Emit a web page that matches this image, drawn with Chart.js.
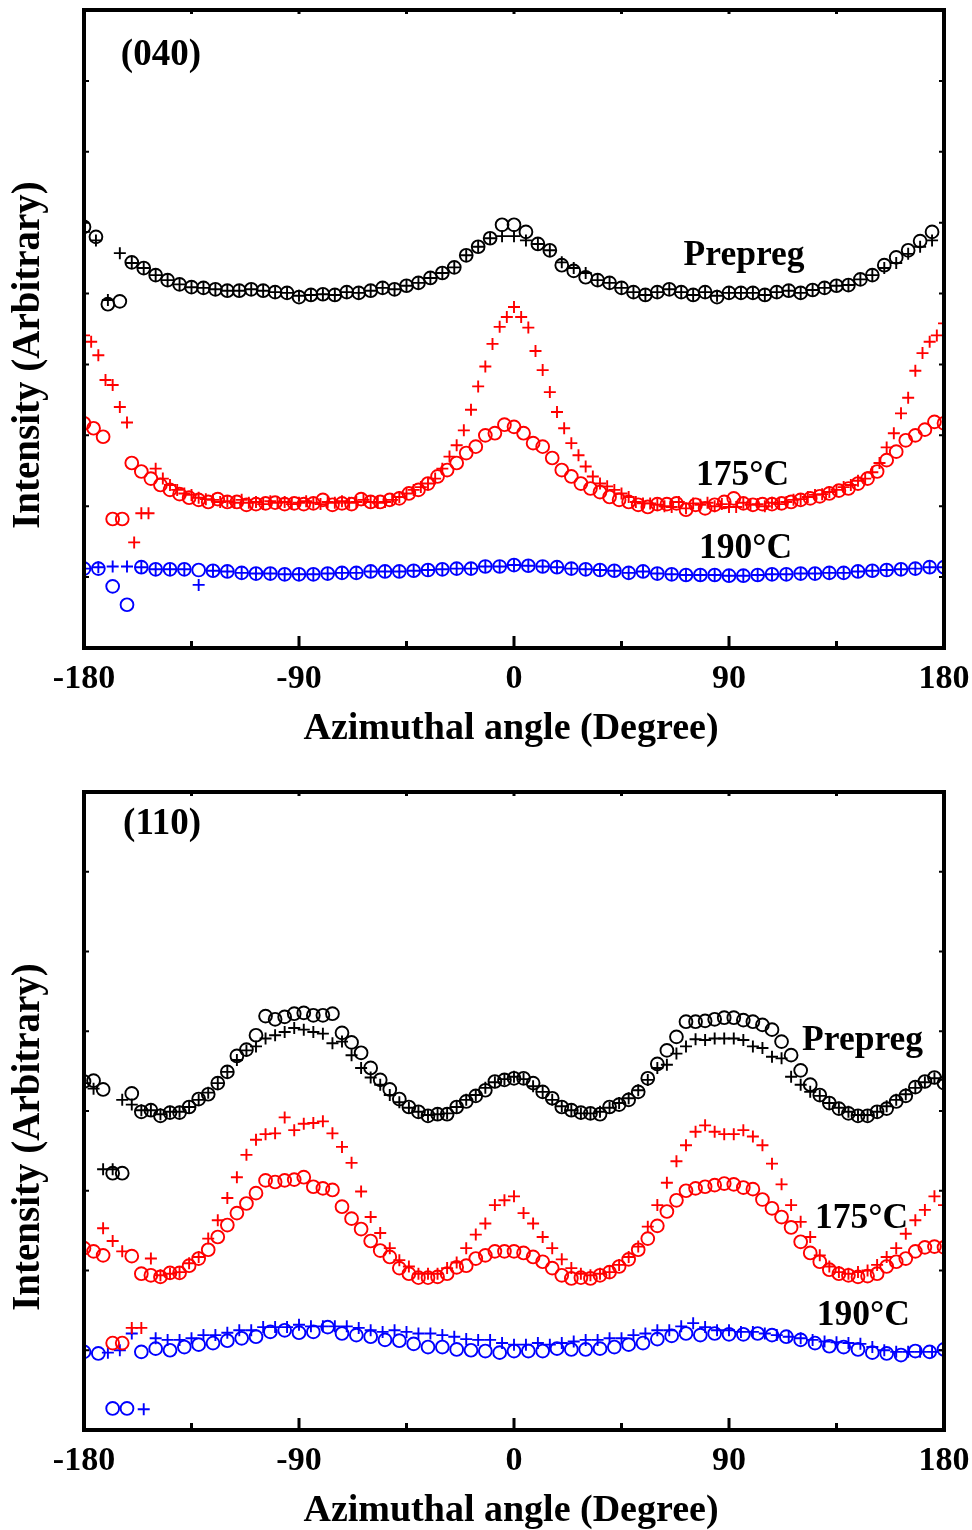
<!DOCTYPE html>
<html>
<head>
<meta charset="utf-8">
<title>Azimuthal intensity (040) and (110)</title>
<script src="https://cdn.jsdelivr.net/npm/chart.js@4.4.1/dist/chart.umd.min.js"></script>
<style>
  body { margin: 0; background: #ffffff; }
  canvas { display: block; }
</style>
</head>
<body>
<canvas id="chart040" width="972" height="765"></canvas>
<canvas id="chart110" width="972" height="765"></canvas>
<script>
// sampling grids (degrees)
const ANGLES_3 = [
  -180, -177, -174, -171, -168, -165, -162, -159, -156, -153,
  -150, -147, -144, -141, -138, -135, -132, -129, -126, -123,
  -120, -117, -114, -111, -108, -105, -102, -99, -96, -93,
  -90, -87, -84, -81, -78, -75, -72, -69, -66, -63,
  -60, -57, -54, -51, -48, -45, -42, -39, -36, -33,
  -30, -27, -24, -21, -18, -15, -12, -9, -6, -3,
  0, 3, 6, 9, 12, 15, 18, 21, 24, 27,
  30, 33, 36, 39, 42, 45, 48, 51, 54, 57,
  60, 63, 66, 69, 72, 75, 78, 81, 84, 87,
  90, 93, 96, 99, 102, 105, 108, 111, 114, 117,
  120, 123, 126, 129, 132, 135, 138, 141, 144, 147,
  150, 153, 156, 159, 162, 165, 168, 171, 174, 177, 180
];
const ANGLES_4 = [
  -180, -176, -172, -168, -164, -160, -156, -152, -148, -144,
  -140, -136, -132, -128, -124, -120, -116, -112, -108, -104,
  -100, -96, -92, -88, -84, -80, -76, -72, -68, -64,
  -60, -56, -52, -48, -44, -40, -36, -32, -28, -24,
  -20, -16, -12, -8, -4, 0, 4, 8, 12, 16,
  20, 24, 28, 32, 36, 40, 44, 48, 52, 56,
  60, 64, 68, 72, 76, 80, 84, 88, 92, 96,
  100, 104, 108, 112, 116, 120, 124, 128, 132, 136,
  140, 144, 148, 152, 156, 160, 164, 168, 172, 176,
  180
];
const ANGLES_5 = [
  -180, -175, -170, -165, -160, -155, -150, -145, -140, -135,
  -130, -125, -120, -115, -110, -105, -100, -95, -90, -85,
  -80, -75, -70, -65, -60, -55, -50, -45, -40, -35,
  -30, -25, -20, -15, -10, -5, 0, 5, 10, 15,
  20, 25, 30, 35, 40, 45, 50, 55, 60, 65,
  70, 75, 80, 85, 90, 95, 100, 105, 110, 115,
  120, 125, 130, 135, 140, 145, 150, 155, 160, 165,
  170, 175, 180
];
const ANGLES_6 = [
  -180, -174, -168, -162, -156, -150, -144, -138, -132, -126,
  -120, -114, -108, -102, -96, -90, -84, -78, -72, -66,
  -60, -54, -48, -42, -36, -30, -24, -18, -12, -6,
  0, 6, 12, 18, 24, 30, 36, 42, 48, 54,
  60, 66, 72, 78, 84, 90, 96, 102, 108, 114,
  120, 126, 132, 138, 144, 150, 156, 162, 168, 174,
  180
];

const X_MAJOR_TICKS = [-180, -90, 0, 90, 180];
const X_MINOR_TICKS = [-135, -45, 45, 135];
const X_TICK_LABELS = ['-180', '-90', '0', '90', '180'];
const X_TITLE = 'Azimuthal angle (Degree)';
const Y_TITLE = 'Intensity (Arbitrary)';

// ---- (040) reflection ----
const p040PrepregO = [ // ANGLES_5
  5.94, 5.80, 4.85, 4.89, 5.44, 5.36, 5.26, 5.19, 5.13, 5.09,
  5.08, 5.06, 5.04, 5.04, 5.06, 5.04, 5.02, 5.01, 4.95, 4.98,
  4.99, 4.98, 5.02, 5.01, 5.04, 5.08, 5.06, 5.11, 5.15, 5.22,
  5.29, 5.37, 5.54, 5.66, 5.78, 5.97, 5.97, 5.87, 5.70, 5.61,
  5.40, 5.32, 5.23, 5.19, 5.15, 5.08, 5.02, 4.98, 5.02, 5.06,
  5.02, 4.98, 5.02, 4.95, 5.01, 5.01, 5.01, 4.98, 5.02, 5.04,
  5.01, 5.05, 5.08, 5.11, 5.12, 5.20, 5.26, 5.40, 5.51, 5.61,
  5.74, 5.87, null
];
const p040PrepregX = [ // ANGLES_5
  5.87, 5.75, 4.91, 5.57, 5.43, 5.36, 5.26, 5.19, 5.13, 5.09,
  5.08, 5.06, 5.04, 5.04, 5.06, 5.04, 5.02, 5.01, 4.97, 4.98,
  4.99, 4.98, 5.02, 5.01, 5.04, 5.08, 5.06, 5.11, 5.15, 5.22,
  5.29, 5.37, 5.54, 5.66, 5.78, 5.81, 5.81, 5.75, 5.70, 5.61,
  5.44, 5.36, 5.29, 5.19, 5.15, 5.08, 5.02, 4.98, 5.02, 5.06,
  5.02, 4.98, 5.02, 4.97, 5.01, 5.01, 5.01, 4.98, 5.02, 5.04,
  5.01, 5.05, 5.08, 5.11, 5.12, 5.20, 5.26, 5.36, 5.43, 5.56,
  5.66, 5.75, null
];
const p040T175O = [ // ANGLES_4
  3.17, 3.10, 2.98, 1.82, 1.82, 2.61, 2.49, 2.39, 2.30, 2.23,
  2.17, 2.12, 2.09, 2.06, 2.10, 2.06, 2.06, 2.02, 2.03, 2.04,
  2.05, 2.03, 2.04, 2.03, 2.04, 2.09, 2.02, 2.04, 2.03, 2.10,
  2.06, 2.06, 2.09, 2.11, 2.18, 2.23, 2.32, 2.42, 2.51, 2.61,
  2.75, 2.84, 3.00, 3.03, 3.15, 3.12, 3.03, 2.89, 2.84, 2.68,
  2.51, 2.42, 2.32, 2.25, 2.20, 2.13, 2.09, 2.06, 2.02, 1.99,
  2.03, 2.03, 2.04, 1.95, 2.02, 1.97, 2.02, 2.06, 2.11, 2.04,
  2.02, 2.03, 2.03, 2.04, 2.06, 2.09, 2.11, 2.14, 2.18, 2.22,
  2.25, 2.32, 2.39, 2.49, 2.65, 2.77, 2.93, 3.00, 3.08, 3.19,
  3.17
];
const p040T175X = [ // ANGLES_3
  4.41, 4.32, 4.13, 3.78, 3.71, 3.40, 3.18, 1.49, 1.90, 1.90,
  2.53, 2.39, 2.30, 2.23, 2.18, 2.16, 2.12, 2.10, 2.09, 2.06,
  2.07, 2.05, 2.09, 2.05, 2.06, 2.03, 2.07, 2.05, 2.06, 2.03,
  2.05, 2.07, 2.05, 2.03, 2.06, 2.05, 2.07, 2.05, 2.06, 2.09,
  2.06, 2.05, 2.06, 2.09, 2.13, 2.18, 2.23, 2.27, 2.32, 2.39,
  2.53, 2.70, 2.86, 3.07, 3.36, 3.69, 3.97, 4.29, 4.53, 4.67,
  4.81, 4.67, 4.52, 4.19, 3.92, 3.61, 3.33, 3.10, 2.89, 2.72,
  2.56, 2.42, 2.32, 2.28, 2.23, 2.18, 2.13, 2.06, 2.04, 2.04,
  2.02, 2.00, 1.99, 2.06, 1.97, 2.04, 2.02, 2.05, 2.00, 2.03,
  1.99, 1.99, 2.05, 2.02, 2.03, 2.00, 2.05, 2.03, 2.06, 2.09,
  2.10, 2.13, 2.16, 2.17, 2.20, 2.23, 2.27, 2.30, 2.36, 2.39,
  2.48, 2.61, 2.83, 3.03, 3.31, 3.53, 3.91, 4.16, 4.32, 4.41, 4.58
];
const p040T190O = [ // ANGLES_6
  1.12, 1.12, 0.87, 0.61, 1.14, 1.11, 1.11, 1.11, 1.10, 1.09,
  1.08, 1.06, 1.05, 1.05, 1.04, 1.04, 1.04, 1.05, 1.06, 1.06,
  1.08, 1.08, 1.08, 1.09, 1.10, 1.11, 1.12, 1.12, 1.15, 1.15,
  1.17, 1.16, 1.15, 1.14, 1.12, 1.11, 1.10, 1.09, 1.06, 1.08,
  1.05, 1.04, 1.03, 1.03, 1.03, 1.02, 1.02, 1.03, 1.04, 1.04,
  1.05, 1.05, 1.06, 1.06, 1.08, 1.09, 1.10, 1.11, 1.12, 1.14,
  1.14
];
const p040T190X = [ // ANGLES_6
  1.12, 1.14, 1.15, 1.15, 1.14, 1.11, 1.11, 1.11, 0.89, 1.09,
  1.08, 1.06, 1.05, 1.05, 1.04, 1.04, 1.04, 1.05, 1.06, 1.06,
  1.08, 1.08, 1.08, 1.09, 1.10, 1.11, 1.12, 1.12, 1.15, 1.15,
  1.17, 1.16, 1.15, 1.14, 1.12, 1.11, 1.10, 1.09, 1.06, 1.08,
  1.05, 1.04, 1.03, 1.03, 1.03, 1.02, 1.02, 1.03, 1.04, 1.04,
  1.05, 1.05, 1.06, 1.06, 1.08, 1.09, 1.10, 1.11, 1.12, 1.14,
  1.14
];

// ---- (110) reflection ----
const p110PrepregO = [ // ANGLES_4
  4.37, 4.38, 4.27, 3.22, 3.22, 4.22, 3.99, 4.01, 3.94, 3.98,
  3.98, 4.05, 4.15, 4.21, 4.35, 4.49, 4.69, 4.77, 4.95, 5.19,
  5.15, 5.18, 5.22, 5.23, 5.20, 5.20, 5.22, 4.98, 4.86, 4.73,
  4.54, 4.39, 4.27, 4.15, 4.05, 3.99, 3.94, 3.96, 3.96, 4.05,
  4.12, 4.19, 4.26, 4.37, 4.39, 4.41, 4.41, 4.35, 4.24, 4.16,
  4.05, 4.01, 3.98, 3.97, 3.96, 4.05, 4.08, 4.14, 4.24, 4.41,
  4.59, 4.76, 4.93, 5.12, 5.12, 5.13, 5.15, 5.17, 5.17, 5.14,
  5.12, 5.08, 5.02, 4.87, 4.70, 4.51, 4.33, 4.20, 4.10, 4.03,
  3.97, 3.94, 3.94, 3.99, 4.03, 4.12, 4.19, 4.30, 4.37, 4.42,
  4.35
];
const p110PrepregX = [ // ANGLES_4
  4.35, 4.28, 3.27, 3.27, 4.14, 4.08, 4.01, 4.01, 3.96, 3.99,
  3.99, 4.05, 4.14, 4.23, 4.35, 4.49, 4.64, 4.76, 4.81, 4.91,
  4.95, 4.99, 5.04, 5.02, 4.99, 4.97, 4.85, 4.87, 4.70, 4.54,
  4.42, 4.33, 4.20, 4.11, 4.04, 3.99, 3.95, 3.96, 3.97, 4.05,
  4.14, 4.20, 4.29, 4.36, 4.40, 4.43, 4.40, 4.31, 4.24, 4.14,
  4.06, 4.01, 3.97, 3.97, 3.99, 4.04, 4.10, 4.16, 4.26, 4.39,
  4.54, 4.58, 4.72, 4.81, 4.90, 4.89, 4.91, 4.91, 4.91, 4.89,
  4.81, 4.79, 4.68, 4.66, 4.43, 4.33, 4.24, 4.19, 4.10, 4.04,
  3.99, 3.95, 3.95, 3.99, 4.06, 4.14, 4.21, 4.29, 4.36, 4.41,
  4.39
];
const p110T175O = [ // ANGLES_4
  2.28, 2.24, 2.19, 1.09, 1.09, 2.18, 1.96, 1.94, 1.92, 1.97,
  1.97, 2.06, 2.15, 2.26, 2.42, 2.57, 2.72, 2.84, 2.97, 3.13,
  3.11, 3.13, 3.14, 3.17, 3.05, 3.03, 3.01, 2.80, 2.65, 2.52,
  2.37, 2.25, 2.17, 2.03, 1.96, 1.91, 1.91, 1.92, 1.96, 2.04,
  2.06, 2.15, 2.19, 2.24, 2.24, 2.24, 2.22, 2.17, 2.11, 2.03,
  1.94, 1.90, 1.91, 1.90, 1.94, 1.98, 2.05, 2.14, 2.26, 2.40,
  2.56, 2.74, 2.88, 3.00, 3.03, 3.05, 3.07, 3.09, 3.08, 3.04,
  3.02, 2.89, 2.78, 2.67, 2.54, 2.36, 2.22, 2.11, 2.01, 1.96,
  1.94, 1.92, 1.93, 1.96, 2.05, 2.11, 2.15, 2.24, 2.29, 2.30,
  2.29
];
const p110T175X = [ // ANGLES_4
  null, null, 2.53, 2.37, 2.24, 1.28, 1.28, 2.15, 1.94, 1.96,
  1.98, 2.09, 2.17, 2.40, 2.63, 2.91, 3.17, 3.45, 3.64, 3.71,
  3.72, 3.92, 3.76, 3.84, 3.85, 3.87, 3.72, 3.55, 3.35, 2.99,
  2.67, 2.47, 2.28, 2.13, 2.05, 1.96, 1.96, 1.96, 2.03, 2.10,
  2.28, 2.45, 2.59, 2.82, 2.88, 2.93, 2.72, 2.59, 2.42, 2.28,
  2.14, 2.03, 1.96, 1.94, 1.96, 1.98, 2.07, 2.17, 2.30, 2.55,
  2.82, 3.10, 3.37, 3.57, 3.74, 3.82, 3.74, 3.71, 3.71, 3.76,
  3.68, 3.57, 3.34, 3.08, 2.82, 2.61, 2.42, 2.19, 2.05, 1.98,
  1.96, 1.98, 2.00, 2.07, 2.17, 2.28, 2.46, 2.63, 2.76, 2.93,
  2.82
];
const p110T190O = [ // ANGLES_6
  0.98, 0.96, 0.27, 0.27, 0.98, 1.02, 1.00, 1.04, 1.07, 1.09,
  1.12, 1.15, 1.17, 1.23, 1.25, 1.22, 1.23, 1.29, 1.21, 1.19,
  1.17, 1.13, 1.12, 1.08, 1.04, 1.04, 1.01, 1.00, 0.99, 0.97,
  0.99, 0.99, 0.99, 1.02, 1.01, 1.01, 1.02, 1.04, 1.07, 1.09,
  1.14, 1.18, 1.21, 1.19, 1.21, 1.20, 1.20, 1.21, 1.19, 1.17,
  1.13, 1.09, 1.05, 1.04, 1.01, 0.97, 0.96, 0.94, 0.99, 0.98,
  1.01
];
const p110T190X = [ // ANGLES_5
  null, null, 0.97, 1.00, 1.21, 0.26, 1.15, 1.13, 1.13, 1.15,
  1.19, 1.19, 1.22, 1.25, 1.25, 1.29, 1.29, 1.29, 1.32, 1.30,
  1.30, 1.30, 1.30, 1.28, 1.25, 1.23, 1.25, 1.23, 1.21, 1.21,
  1.19, 1.17, 1.14, 1.13, 1.13, 1.09, 1.07, 1.07, 1.09, 1.07,
  1.09, 1.11, 1.13, 1.13, 1.15, 1.15, 1.19, 1.21, 1.25, 1.25,
  1.30, 1.34, 1.29, 1.25, 1.25, 1.23, 1.23, 1.21, 1.19, 1.17,
  1.15, 1.13, 1.11, 1.10, 1.09, 1.08, 1.04, 1.00, 0.98, 0.98,
  0.98, 0.98, 1.00
];

const BLACK = '#000000';
const RED = '#ff0000';
const BLUE = '#0000ff';
const FONT = '"Liberation Serif", "Times New Roman", serif';

function toPoints(angles, values) {
  return angles
    .map((a, i) => ({ x: a, y: values[i] }))
    .filter(p => p.y !== null && p.y !== undefined);
}

function series(angles, values, color, style) {
  const r = style === 'circle' ? 6.4 : 6;
  return {
    data: toPoints(angles, values),
    showLine: false,
    pointStyle: style,
    pointRadius: r,
    pointHoverRadius: r,
    pointBorderWidth: 1.9,
    borderColor: color,
    backgroundColor: 'rgba(0,0,0,0)',
    pointBorderColor: color,
    pointBackgroundColor: 'rgba(0,0,0,0)',
    clip: 0
  };
}

// frame, inward ticks and all the text of a panel
const panelDecor = {
  id: 'panelDecor',
  afterDraw(chart, args, opts) {
    const { ctx, chartArea: area } = chart;
    const xs = chart.scales.x;
    const ys = chart.scales.y;
    ctx.save();
    ctx.strokeStyle = '#000';
    ctx.fillStyle = '#000';

    ctx.lineWidth = 3;
    ctx.beginPath();
    X_MAJOR_TICKS.forEach(v => {
      const px = xs.getPixelForValue(v);
      ctx.moveTo(px, area.bottom); ctx.lineTo(px, area.bottom - 12);
      ctx.moveTo(px, area.top); ctx.lineTo(px, area.top + 4);
    });
    X_MINOR_TICKS.forEach(v => {
      const px = xs.getPixelForValue(v);
      ctx.moveTo(px, area.bottom); ctx.lineTo(px, area.bottom - 7);
      ctx.moveTo(px, area.top); ctx.lineTo(px, area.top + 4);
    });
    ctx.stroke();

    ctx.lineWidth = 2;
    ctx.beginPath();
    ys.ticks.forEach(t => {
      if (t.value <= ys.min || t.value >= ys.max) return;
      const py = ys.getPixelForValue(t.value);
      ctx.moveTo(area.left, py); ctx.lineTo(area.left + 5, py);
      ctx.moveTo(area.right, py); ctx.lineTo(area.right - 5, py);
    });
    ctx.stroke();

    ctx.lineWidth = 4;
    ctx.strokeRect(area.left, area.top, area.right - area.left, area.bottom - area.top);

    ctx.textAlign = 'center';
    ctx.textBaseline = 'alphabetic';
    ctx.font = 'bold 34px ' + FONT;
    X_MAJOR_TICKS.forEach((v, i) => {
      ctx.fillText(X_TICK_LABELS[i], xs.getPixelForValue(v), area.bottom + 40);
    });

    ctx.font = 'bold 38px ' + FONT;
    ctx.fillText(X_TITLE, (area.left + area.right) / 2 - 3, area.bottom + 91);

    ctx.save();
    ctx.translate(area.left - 45, (area.top + area.bottom) / 2 + 26);
    ctx.rotate(-Math.PI / 2);
    ctx.font = 'bold 39px ' + FONT;
    ctx.fillText(Y_TITLE, 0, 0);
    ctx.restore();

    opts.notes.forEach(n => {
      ctx.font = 'bold ' + n.size + 'px ' + FONT;
      ctx.fillText(n.text, xs.getPixelForValue(n.x), ys.getPixelForValue(n.y));
    });
    ctx.restore();
  }
};

function makePanel(canvasId, yMax, padTop, axisHeight, datasets, notes) {
  return new Chart(document.getElementById(canvasId), {
    type: 'scatter',
    data: { datasets: datasets },
    options: {
      responsive: false,
      animation: false,
      devicePixelRatio: 1,
      events: [],
      layout: { padding: { top: padTop, right: 28, left: 0, bottom: 0 } },
      scales: {
        x: {
          type: 'linear', min: -180, max: 180,
          ticks: { display: false, stepSize: 45 },
          grid: { display: false, drawTicks: false },
          border: { display: false },
          afterFit: s => { s.height = axisHeight; }
        },
        y: {
          type: 'linear', min: 0, max: yMax,
          ticks: { display: false, stepSize: 1 },
          grid: { display: false, drawTicks: false },
          border: { display: false },
          afterFit: s => { s.width = 84; }
        }
      },
      plugins: {
        legend: { display: false },
        tooltip: { enabled: false },
        panelDecor: { notes: notes }
      }
    },
    plugins: [panelDecor]
  });
}

makePanel('chart040', 9, 10, 117, [
  series(ANGLES_5, p040PrepregO, BLACK, 'circle'),
  series(ANGLES_5, p040PrepregX, BLACK, 'cross'),
  series(ANGLES_4, p040T175O, RED, 'circle'),
  series(ANGLES_3, p040T175X, RED, 'cross'),
  series(ANGLES_6, p040T190O, BLUE, 'circle'),
  series(ANGLES_6, p040T190X, BLUE, 'cross')
], [
  { text: '(040)', x: -147.8, y: 8.22, size: 37 },
  { text: 'Prepreg', x: 96.3, y: 5.40, size: 35.5 },
  { text: '175°C', x: 95.7, y: 2.30, size: 35.5 },
  { text: '190°C', x: 96.9, y: 1.27, size: 35.5 }
]);

makePanel('chart110', 8, 27, 100, [
  series(ANGLES_4, p110PrepregO, BLACK, 'circle'),
  series(ANGLES_4, p110PrepregX, BLACK, 'cross'),
  series(ANGLES_4, p110T175O, RED, 'circle'),
  series(ANGLES_4, p110T175X, RED, 'cross'),
  series(ANGLES_6, p110T190O, BLUE, 'circle'),
  series(ANGLES_5, p110T190X, BLUE, 'cross')
], [
  { text: '(110)', x: -147.3, y: 7.47, size: 37 },
  { text: 'Prepreg', x: 145.9, y: 4.76, size: 35.5 },
  { text: '175°C', x: 145.5, y: 2.53, size: 35.5 },
  { text: '190°C', x: 146.2, y: 1.32, size: 35.5 }
]);
</script>
</body>
</html>
